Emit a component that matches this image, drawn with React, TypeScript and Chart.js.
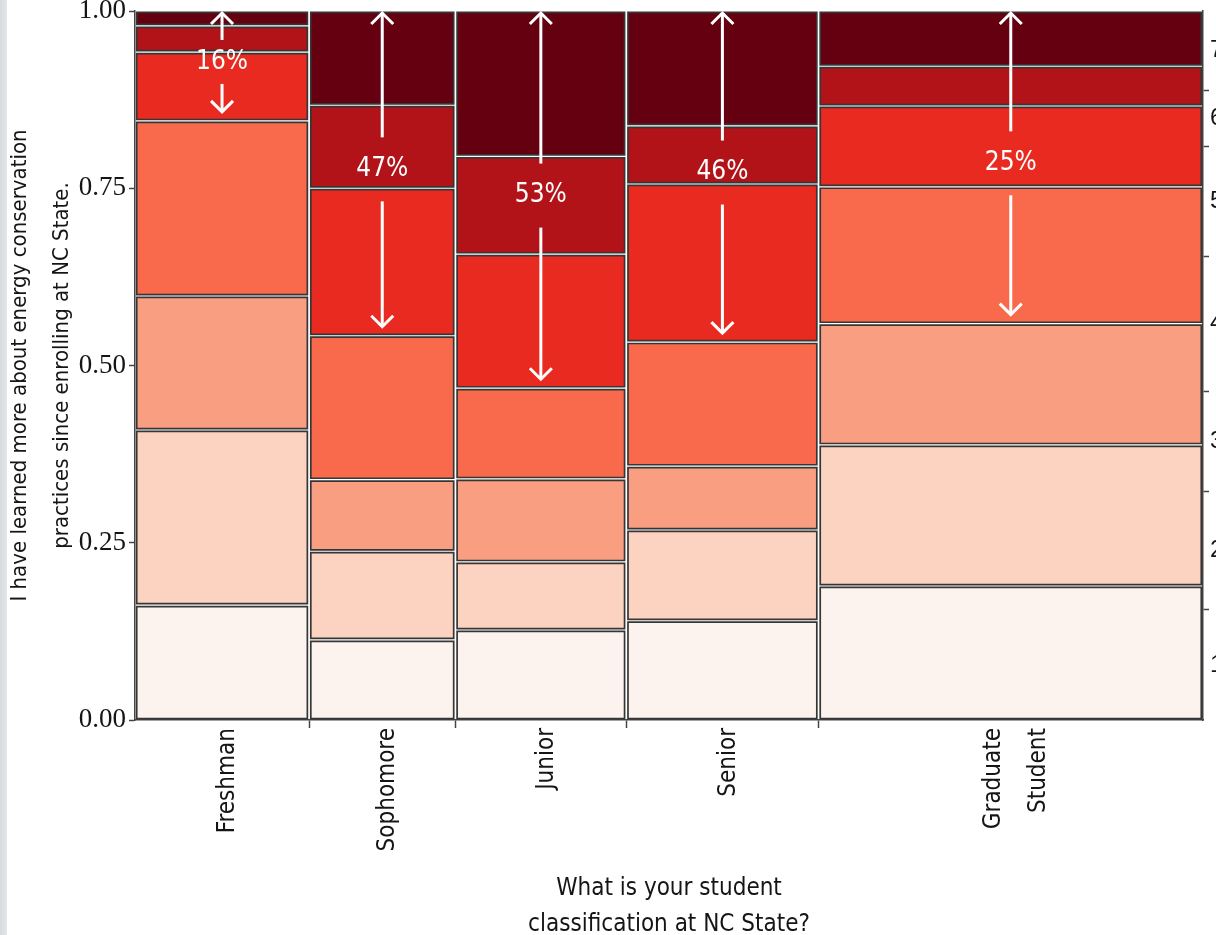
import React, { useEffect, useRef } from "react";
import { Chart, registerables } from "chart.js";

Chart.register(...registerables);

// ---------------- data ----------------
const categories: string[][] = [["Freshman"], ["Sophomore"], ["Junior"], ["Senior"], ["Graduate", "Student"]];
// share of respondents in each classification (column widths, %)
const columnShare = [16.3, 13.7, 16.0, 18.0, 36.0];
// response levels (1 = strongly disagree ... 7 = strongly agree)
const responseLevels = ["1", "2", "3", "4", "5", "6", "7"];
// % of each classification answering each level
const level1 = [16.2, 11.3, 12.7, 14.0, 18.9];
const level2 = [24.7, 12.5, 9.6, 12.8, 19.9];
const level3 = [18.9, 10.1, 11.7, 9.0, 17.1];
const level4 = [24.7, 20.3, 12.8, 17.5, 19.3];
const level5 = [9.7, 20.8, 18.9, 22.3, 11.4];
const level6 = [3.7, 11.7, 13.8, 8.2, 5.6];
const level7 = [2.1, 13.3, 20.5, 16.2, 7.8];
// annotation: percentage written in each column and the lowest level its arrows reach
const bracketLabels = ["16%", "47%", "53%", "46%", "25%"];
const bracketFromLevel = [5, 5, 5, 5, 4];
const yTickValues = [0, 0.25, 0.5, 0.75, 1];

// ---------------- styles ----------------
const levelColors = ["#fdf3ee", "#fcd3c1", "#f99e80", "#f86a4b", "#e82a20", "#b11318", "#650010"];
const SANS = "'DejaVu Sans Condensed', 'DejaVu Sans', sans-serif";
const SERIF = "'Liberation Serif', 'DejaVu Serif', serif";
const AXIS = "#444444";
const TEXT = "#151515";

// ---------------- derived ----------------
const levelSeries = [level1, level2, level3, level4, level5, level6, level7];
const totalShare = columnShare.reduce((a, b) => a + b, 0);
const colEdges: number[] = [0];
columnShare.forEach((s) => colEdges.push(colEdges[colEdges.length - 1] + s / totalShare));
const colTotals = categories.map((_, i) => levelSeries.reduce((a, s) => a + s[i], 0));
const cum: number[][] = [categories.map(() => 0)];
levelSeries.forEach((s, k) => cum.push(cum[k].map((v, i) => v + s[i] / colTotals[i])));

const marginal = levelSeries.map((s) =>
  s.reduce((a, v, i) => a + (v / colTotals[i]) * (columnShare[i] / totalShare), 0)
);
const marginalEdges: number[] = [0];
marginal.forEach((m) => marginalEdges.push(marginalEdges[marginalEdges.length - 1] + m));

type Tk = { value: number; label: string | string[]; mark: boolean };
const rightTicks: Tk[] = [];
responseLevels.forEach((lab, k) => {
  rightTicks.push({ value: (marginalEdges[k] + marginalEdges[k + 1]) / 2, label: lab, mark: false });
  if (k < responseLevels.length - 1) rightTicks.push({ value: marginalEdges[k + 1], label: "", mark: true });
});

const xTicks: Tk[] = [];
categories.forEach((lab, i) => {
  xTicks.push({ value: (colEdges[i] + colEdges[i + 1]) / 2, label: lab.length > 1 ? lab : lab[0], mark: false });
  if (i < categories.length - 1) xTicks.push({ value: colEdges[i + 1], label: "", mark: true });
});

const GX = 0.0016;
const GY = 0.002;
const X_LABEL_LINE = 45;

const cellDatasets: any[] = [];
categories.forEach((_, i) => {
  levelSeries.forEach((__, k) => {
    const x0 = colEdges[i] + GX;
    const x1 = colEdges[i + 1] - GX;
    const y0 = cum[k][i] + GY;
    const y1 = cum[k + 1][i] - GY;
    cellDatasets.push({
      type: "line",
      label: `${categories[i].join(" ")} – ${responseLevels[k]}`,
      data: [
        { x: x0, y: y0 },
        { x: x1, y: y0 },
        { x: x1, y: y1 },
        { x: x0, y: y1 },
        { x: x0, y: y0 },
      ],
      borderColor: "#363636",
      borderWidth: 1.7,
      borderJoinStyle: "miter",
      borderCapStyle: "square",
      backgroundColor: levelColors[k],
      fill: "shape",
      pointRadius: 0,
      tension: 0,
    });
  });
});

function drawArrow(ctx: CanvasRenderingContext2D, x: number, from: number, to: number) {
  const dir = to < from ? -1 : 1;
  ctx.beginPath();
  ctx.moveTo(x, from);
  ctx.lineTo(x, to);
  ctx.stroke();
  ctx.beginPath();
  ctx.moveTo(x - 11, to - dir * 11);
  ctx.lineTo(x, to);
  ctx.lineTo(x + 11, to - dir * 11);
  ctx.stroke();
}

const bracketPlugin = {
  id: "bracketPlugin",
  afterDatasetsDraw(chart: any) {
    const ctx: CanvasRenderingContext2D = chart.ctx;
    const xs = chart.scales.x;
    const ys = chart.scales.y;
    ctx.save();
    ctx.strokeStyle = "#ffffff";
    ctx.fillStyle = "#ffffff";
    ctx.lineWidth = 3;
    ctx.lineJoin = "miter";
    ctx.font = `26px ${SANS}`;
    ctx.textAlign = "center";
    ctx.textBaseline = "middle";
    categories.forEach((_, i) => {
      const cx = xs.getPixelForValue((colEdges[i] + colEdges[i + 1]) / 2);
      const top = ys.getPixelForValue(1);
      const floor = ys.getPixelForValue(cum[bracketFromLevel[i] - 1][i]);
      const half = (floor - top) / 2;
      const mid = top + half - 4;
      const gap = Math.min(32, half * 0.4);
      ctx.fillText(bracketLabels[i], cx, mid);
      drawArrow(ctx, cx, mid - gap, top + 2);
      drawArrow(ctx, cx, mid + gap, floor - 9);
    });
    ctx.restore();
  },
};

export default function App() {
  const ref = useRef<HTMLCanvasElement>(null);
  useEffect(() => {
    if (!ref.current) return;
    const chart = new Chart(ref.current, {
      type: "line",
      data: { datasets: cellDatasets },
      plugins: [bracketPlugin],
      options: {
        responsive: true,
        maintainAspectRatio: false,
        animation: false,
        events: [],
        layout: { padding: { top: 11, left: 0, right: 0, bottom: 0 } },
        plugins: { legend: { display: false }, tooltip: { enabled: false } },
        scales: {
          x: {
            type: "linear",
            position: "bottom",
            min: 0,
            max: 1,
            afterBuildTicks: (s: any) => {
              const w = s.width || 1068;
              s.ticks = xTicks.map((t) => {
                const n = Array.isArray(t.label) ? t.label.length : 1;
                return { value: t.value - ((n - 1) * X_LABEL_LINE) / 2 / w };
              });
            },
            afterFit: (s: any) => {
              s.height = 215;
              s.paddingLeft = 0;
              s.paddingRight = 0;
            },
            ticks: {
              autoSkip: false,
              minRotation: 90,
              maxRotation: 90,
              padding: 0,
              labelOffset: 6,
              color: TEXT,
              font: { family: SANS, size: 24, lineHeight: X_LABEL_LINE / 24 },
              callback: (_v: any, i: number) => xTicks[i].label,
            },
            grid: {
              drawOnChartArea: false,
              tickLength: 8,
              tickWidth: 1.5,
              color: AXIS,
              tickColor: (c: any) => (xTicks[c.index] && xTicks[c.index].mark ? AXIS : "rgba(0,0,0,0)"),
            },
            border: { display: true, color: AXIS, width: 1.5 },
            title: {
              display: true,
              text: ["What is your student", "classification at NC State?"],
              color: TEXT,
              font: { family: SANS, size: 24, lineHeight: 1.5 },
              padding: { top: 0, bottom: -8 },
            },
          },
          y: {
            type: "linear",
            position: "left",
            min: 0,
            max: 1,
            afterBuildTicks: (s: any) => {
              s.ticks = yTickValues.map((v) => ({ value: v }));
            },
            afterFit: (s: any) => {
              s.width = 135;
              s.paddingTop = 0;
              s.paddingBottom = 0;
            },
            ticks: {
              autoSkip: false,
              padding: 3,
              color: TEXT,
              font: { family: SERIF, size: 27 },
              callback: (v: any) => Number(v).toFixed(2),
            },
            grid: { drawOnChartArea: false, tickLength: 6, tickWidth: 1.5, color: AXIS, tickColor: AXIS },
            border: { display: true, color: AXIS, width: 1.5 },
            title: {
              display: true,
              text: ["I have learned more about energy conservation", "practices since enrolling at NC State."],
              color: TEXT,
              font: { family: SANS, size: 22, lineHeight: 42 / 22 },
              padding: { top: -1, bottom: 0 },
            },
          },
          y2: {
            type: "linear",
            position: "right",
            min: 0,
            max: 1,
            afterBuildTicks: (s: any) => {
              s.ticks = rightTicks.map((t) => ({ value: t.value }));
            },
            afterFit: (s: any) => {
              s.width = 13;
              s.paddingTop = 0;
              s.paddingBottom = 0;
            },
            ticks: {
              autoSkip: false,
              padding: 1,
              color: TEXT,
              font: { family: "'Liberation Sans', Arial, sans-serif", size: 24 },
              callback: (_v: any, i: number) => rightTicks[i].label,
            },
            grid: {
              drawOnChartArea: false,
              tickLength: 6,
              tickWidth: 1.5,
              color: AXIS,
              tickColor: (c: any) => (rightTicks[c.index] && rightTicks[c.index].mark ? AXIS : "rgba(0,0,0,0)"),
            },
            border: { display: true, color: AXIS, width: 1.5 },
          },
        },
      } as any,
    });
    return () => chart.destroy();
  }, []);

  return (
    <div
      style={{
        position: "absolute",
        left: 0,
        top: 0,
        width: 1216,
        height: 935,
        background: "linear-gradient(to right, #d8dbde 0px, #e4e6e8 7px, #ffffff 7px)",
      }}
    >
      <canvas ref={ref} />
    </div>
  );
}
